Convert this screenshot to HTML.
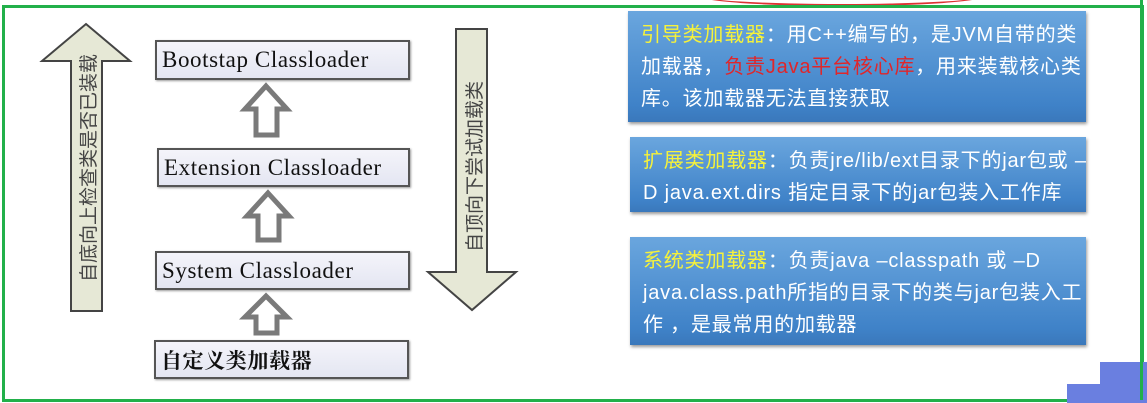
<!DOCTYPE html>
<html><head><meta charset="utf-8"><style>
body{margin:0;width:1147px;height:403px;background:#fff;position:relative;overflow:hidden;font-family:"Liberation Sans","Noto Sans CJK SC",sans-serif}
.frame{position:absolute;left:2px;top:5px;width:1136px;height:391px;border:3px solid #22b04a}
.box{position:absolute;background:linear-gradient(#f4f4fa,#e4e6f2);border:2px solid #555;box-shadow:1px 1px 2px #999;font-family:"Liberation Serif","Noto Serif CJK SC",serif;font-size:23px;letter-spacing:0.6px;color:#111;padding-left:5px;box-sizing:border-box;white-space:nowrap}
.panel{position:absolute;background:linear-gradient(#6aa6de,#3f82c8 85%,#3a78bb);box-shadow:1px 2px 3px #999;color:#fff;font-size:20px;letter-spacing:0.8px;line-height:32px;padding:8px 0 0 13px;box-sizing:border-box;white-space:nowrap}
.y{color:#f6f23a}.r{color:#e0262a}
</style></head><body>
<div style="position:absolute;left:700px;top:-14px;width:280px;height:16px;border:2px solid #d33;border-radius:50%"></div>
<div class="frame"></div>
<svg style="position:absolute;left:0;top:0" width="560" height="403">
<polygon points="86,24 130,61 102,61 102,311 71,311 71,61 42,61" fill="#e6e8d6" stroke="#444" stroke-width="2"/>
<polygon points="456,29 487,29 487,272 516,272 472,310 428,272 456,272" fill="#e6e8d6" stroke="#444" stroke-width="2"/>
<g fill="none" stroke="#7a7a7a" stroke-width="5" stroke-linejoin="miter">
<polygon points="266,86 287,109 277,109 277,135 256,135 256,109 245,109"/>
<polygon points="268,193 289,216 279,216 279,240 258,240 258,216 247,216"/>
<polygon points="266,296 287,317 277,317 277,333 256,333 256,317 245,317"/>
</g>
<text transform="translate(95,282) rotate(-90)" font-size="19" fill="#444" font-family="Noto Sans CJK SC,sans-serif">自底向上检查类是否已装载</text>
<text transform="translate(481,252) rotate(-90)" font-size="19" fill="#444" font-family="Noto Sans CJK SC,sans-serif">自顶向下尝试加载类</text>
</svg>
<div class="box" style="left:155px;top:40px;width:255px;height:40px;line-height:36px">Bootstap Classloader</div>
<div class="box" style="left:157px;top:148px;width:253px;height:39px;line-height:35px">Extension Classloader</div>
<div class="box" style="left:155px;top:251px;width:255px;height:39px;line-height:35px">System Classloader</div>
<div class="box" style="left:154px;top:340px;width:255px;height:39px;line-height:38px;font-weight:bold;font-size:21px">自定义类加载器</div>
<div class="panel" style="left:628px;top:11px;width:458px;height:111px"><span class="y">引导类加载器</span>：用C++编写的，是JVM自带的类<br>加载器，<span class="r">负责Java平台核心库</span>，用来装载核心类<br>库。该加载器无法直接获取</div>
<div class="panel" style="left:630px;top:137px;width:456px;height:75px"><span class="y">扩展类加载器</span>：负责jre/lib/ext目录下的jar包或 –<br>D java.ext.dirs 指定目录下的jar包装入工作库</div>
<div class="panel" style="left:630px;top:237px;width:456px;height:108px"><span class="y">系统类加载器</span>：负责java –classpath 或 –D<br>java.class.path所指的目录下的类与jar包装入工<br>作 ，是最常用的加载器</div>
<div style="position:absolute;left:1100px;top:362px;width:47px;height:41px;background:#6a7fe0"></div>
<div style="position:absolute;left:1067px;top:384px;width:40px;height:19px;background:#6a7fe0"></div>
<div style="position:absolute;left:1140px;top:0;width:3px;height:400px;background:#22b04a"></div>
</body></html>
